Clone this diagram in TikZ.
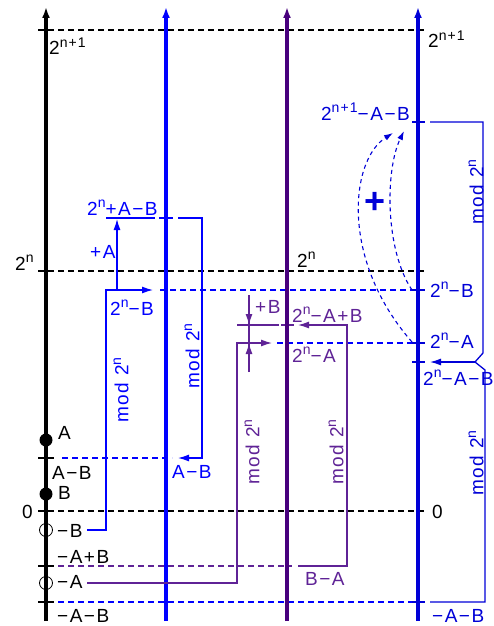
\documentclass[tikz,border=0pt]{standalone}
\usepackage{fontspec}
\setmainfont{Liberation Sans}[LetterSpace=8]
\usetikzlibrary{arrows.meta}
\definecolor{bl}{RGB}{0,0,255}
\definecolor{rb}{RGB}{0,0,215}
\definecolor{pax}{RGB}{72,0,125}
\definecolor{pu}{RGB}{95,35,150}
\newcommand\supx[1]{\raisebox{0.38em}{\fontsize{14pt}{14pt}\selectfont #1}}
\begin{document}
\begin{tikzpicture}[x=1pt,y=-1pt,
  axis/.style={line width=3.2pt,-{Latex[length=11pt,width=8pt]}},
  thin/.style={line width=1.3pt},
  dsh/.style={line width=1.3pt,dash pattern=on 6pt off 4pt},
  tk/.style={line width=1.3pt},
  arr/.style={-{Latex[length=11pt,width=7pt]}},
  curv/.style={rb,line width=1.1pt,dash pattern=on 4pt off 3.5pt,-{Latex[length=9pt,width=6pt]}},
  lab/.style={font=\fontsize{19}{21}\selectfont,inner sep=0pt,anchor=base west},
  labe/.style={font=\fontsize{19}{21}\selectfont,inner sep=0pt,anchor=base east},
  modl/.style={font=\fontsize{19}{21}\selectfont,inner sep=0pt,rotate=90}]
\useasboundingbox (0,0) rectangle (493,626);

% level coordinates on the axes
\coordinate (k30) at (38,30);   \coordinate (r30) at (425,30);
\coordinate (k271) at (38,271); \coordinate (r271) at (425,271);
\coordinate (k511) at (38,511); \coordinate (r511) at (425,511);

% dashed levels
\draw[dsh,black] (k30) -- (r30);
\draw[dsh,black] (k271) -- (r271);
\draw[dsh,black] (k511) -- (r511);
\draw[dsh,bl] (160,290) -- (412,290);
\draw[dsh,bl] (277,343) -- (412,343);
\draw[dsh,bl] (62,458) -- (172,458);
\draw[dsh,pu] (58,566) -- (292,566);
\draw[dsh,bl] (58,602) -- (412,602);

% ticks
\foreach \yy in {458,566,602} \draw[tk,black] (38,\yy) -- (54,\yy);
\foreach \yy in {122,290,343,362,602} \draw[tk,rb] (412,\yy) -- (425,\yy);
\draw[tk,bl] (159,218) -- (173,218);
\draw[tk,pu] (281,325) -- (294,325);

% axes
\draw[axis,black] (46,621) -- (46,7);
\draw[axis,bl] (166,621) -- (166,7);
\draw[axis,pax] (287,621) -- (287,7);
\draw[axis,rb] (418,621) -- (418,7);

% blue boxes
\draw[thin,bl,arr] (87,530) -- (106,530) -- (106,290) -- (153,290);
\draw[thin,bl,arr] (117,290) -- (117,219);
\draw[thin,bl] (106,218) -- (155,218);
\draw[thin,bl,arr] (178,218) -- (202,218) -- (202,458) -- (178,458);

% purple boxes
\draw[thin,pu,arr] (87,583) -- (237,583) -- (237,343) -- (272,343);
\draw[thin,pu] (237,325) -- (279,325);
\draw[thin,pu,arr] (298,566) -- (347,566) -- (347,325) -- (298,325);
\draw[thin,pu] (249,295) -- (249,372);
\draw[thin,pu,arr] (249,295) -- (249,325);
\draw[thin,pu,arr] (249,372) -- (249,343);

% right box
\draw[thin,rb] (430,122) -- (483,122) -- (483,353) -- (475,362) -- (485,370) -- (485,602) -- (430,602);
\draw[thin,rb,arr] (475,362) -- (430,362);

% dashed curves
\draw[curv] (412,342) .. controls (340,260) and (350,160) .. (393,133);
\draw[curv] (412,290) .. controls (385,250) and (385,170) .. (404,131);

% points on the black axis
\fill[black] (46,440) circle (6.5pt);
\fill[black] (46,494) circle (6.5pt);
\draw[black,line width=0.8pt] (46,530) circle (6.5pt);
\draw[black,line width=0.8pt] (46,583) circle (6.5pt);

% black labels
\node[lab] (t1) at (49,55) {2\supx{n+1}};
\node[lab] (t2) at (428,48) {2\supx{n+1}};
\node[lab] (t3) at (15,270) {2\supx{n}};
\node[lab] (t4) at (297,267) {2\supx{n}};
\node[lab] (t5) at (58,439) {A};
\node[lab] (t6) at (52,479) {A−B};
\node[lab] (t7) at (58,499) {B};
\node[lab] (t8) at (22,518) {0};
\node[lab] (t9) at (432,518) {0};
\node[lab] (t10) at (57,537) {−B};
\node[lab] (t11) at (57,563) {−A+B};
\node[lab] (t12) at (57,588) {−A};
\node[lab] (t13) at (57,622) {−A−B};

% blue labels
\node[lab,text=bl] (b1) at (87,215) {2\supx{n}+A−B};
\node[lab,text=bl] (b2) at (90,258) {+A};
\node[lab,text=bl] (b3) at (110,315) {2\supx{n}−B};
\node[lab,text=bl] (b4) at (172,478) {A−B};
\node[modl,text=bl] (m1) at (121,390) {mod 2\supx{n}};
\node[modl,text=bl] (m2) at (192,356) {mod 2\supx{n}};

% purple labels
\node[lab,text=pu] (p1) at (292,322) {2\supx{n}−A+B};
\node[lab,text=pu] (p2) at (292,362) {2\supx{n}−A};
\node[lab,text=pu] (p3) at (255,313) {+B};
\node[lab,text=pu] (p4) at (305,585) {B−A};
\node[modl,text=pu] (m3) at (252,452) {mod 2\supx{n}};
\node[modl,text=pu] (m4) at (336,452) {mod 2\supx{n}};

% right blue labels
\node[labe,text=rb] (r1) at (410,120) {2\supx{n+1}−A−B};
\node[lab,text=rb] (r2) at (430,297) {2\supx{n}−B};
\node[lab,text=rb] (r3) at (430,348) {2\supx{n}−A};
\node[lab,text=rb] (r4) at (423,385) {2\supx{n}−A−B};
\node[lab,text=rb] (r5) at (432,622) {−A−B};
\node[modl,text=rb] (m5) at (476,192) {mod 2\supx{n}};
\node[modl,text=rb] (m6) at (476,463) {mod 2\supx{n}};
\node[font=\fontsize{36}{36}\selectfont\bfseries,text=rb,inner sep=0pt] (plus) at (375,203) {+};
\end{tikzpicture}
\end{document}
